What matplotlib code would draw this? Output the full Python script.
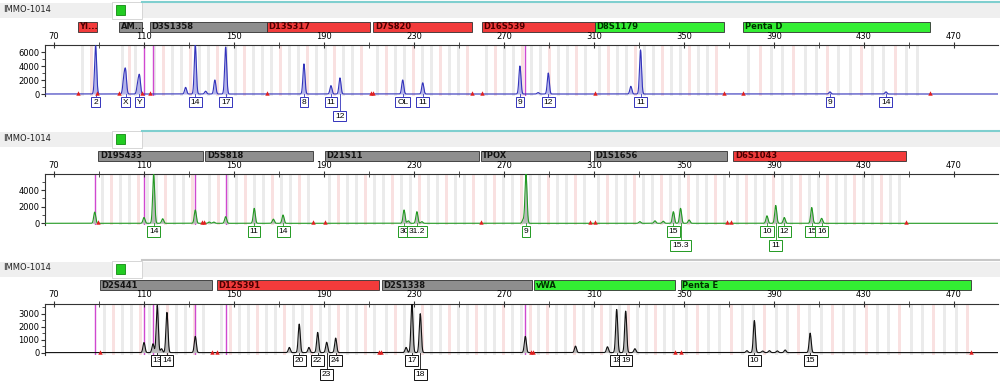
import numpy as np
import matplotlib.pyplot as plt
import matplotlib.transforms as mtransforms
from matplotlib.patches import Rectangle
from matplotlib.lines import Line2D

W, H = 1000, 382

sample = 'IMMO-1014'
size_ticks = [70, 110, 150, 190, 230, 270, 310, 350, 390, 430, 470]
size_minor = [90, 130, 170, 210, 250, 290, 330, 370, 410, 450]

# ---- panel 1 (blue) ----
loci1 = ['YI...', 'AM...', 'D3S1358', 'D13S317', 'D7S820', 'D16S539', 'D8S1179', 'Penta D']
loci1_start = [80.5, 98.9, 112.5, 164.5, 211.8, 260.1, 310.4, 376.4]
loci1_end = [89.3, 109.2, 164.5, 210.6, 255.8, 310.4, 367.9, 459.3]
loci1_col = ['red', 'gray', 'gray', 'red', 'red', 'red', 'green', 'green']
loci1_rep = [4, 3, 4, 4, 4, 4, 4, 5]
peaks1_bp = [88.5, 101.0, 101.8, 107.2, 108.0, 128.5, 132.8, 137.4, 141.5, 146.3,
             181.1, 193.1, 197.1, 225.0, 233.9, 277.1, 285.2, 289.7, 326.4, 330.7,
             414.9, 439.8]
peaks1_h = [6900, 2000, 3200, 1300, 2500, 950, 7000, 400, 2000, 6700,
            4300, 1200, 2300, 2000, 1600, 4000, 200, 3000, 1100, 6300,
            300, 300]
calls1 = [(88.5, '2', 0), (101.8, 'X', 0), (108.0, 'Y', 0), (132.8, '14', 0),
          (146.3, '17', 0), (181.1, '8', 0), (193.1, '11', 0), (197.1, '12', 1),
          (225.0, 'OL', 0), (233.9, '11', 0), (277.1, '9', 0), (289.7, '12', 0),
          (330.7, '11', 0), (414.9, '9', 0), (439.8, '14', 0)]
magenta1 = [110, 114, 279.5]
flags1 = [80.5, 89.3, 98.9, 109.2, 112.5, 164.5, 211.0, 211.6, 255.6, 260.1,
          310.4, 367.9, 376.4, 459.3]

# ---- panel 2 (green) ----
loci2 = ['D19S433', 'D5S818', 'D21S11', 'TPOX', 'D1S1656', 'D6S1043']
loci2_start = [89.7, 137.1, 190.4, 259.6, 310.0, 371.9]
loci2_end = [136.1, 185.3, 259.0, 308.2, 369.3, 448.7]
loci2_col = ['gray', 'gray', 'gray', 'gray', 'gray', 'red']
loci2_rep = [4, 4, 4, 4, 4, 4]
peaks2_bp = [88.1, 110.0, 114.3, 118.3, 132.8, 139.0, 141.0, 146.3, 159.0, 167.5,
             171.8, 225.6, 227.5, 231.3, 233.5, 278.5, 279.8, 330.4, 337.1, 340.8,
             345.3, 348.5, 352.3, 386.9, 390.8, 394.6, 406.8, 411.2]
peaks2_h = [1350, 700, 5900, 550, 1600, 150, 150, 800, 1800, 500,
            1000, 1600, 300, 1400, 200, 400, 5900, 200, 300, 250,
            1400, 1800, 400, 900, 2150, 700, 1900, 600]
calls2 = [(114.3, '14', 0), (159.0, '11', 0), (171.8, '14', 0), (225.6, '30', 0),
          (231.3, '31.2', 0), (279.8, '9', 0), (345.3, '15', 0), (348.5, '15.3', 1),
          (386.9, '10', 0), (390.8, '11', 1), (394.6, '12', 0), (406.8, '15', 0),
          (411.2, '16', 0)]
magenta2 = [88.1, 110, 132.8, 146.3]
flags2 = [89.4, 136.0, 136.8, 185.3, 190.4, 259.6, 308.2, 310.4, 369.3, 371.1, 448.7]

# ---- panel 3 (black) ----
loci3 = ['D2S441', 'D12S391', 'D2S1338', 'vWA', 'Penta E']
loci3_start = [90.4, 142.3, 215.6, 283.3, 348.5]
loci3_end = [140.4, 214.6, 282.6, 346.0, 477.4]
loci3_col = ['gray', 'red', 'gray', 'green', 'green']
loci3_rep = [4, 4, 4, 4, 5]
peaks3_bp = [110.0, 114.0, 115.9, 117.8, 120.2, 132.8, 174.6, 179.0, 183.3, 187.2,
             191.2, 195.2, 226.5, 229.1, 232.8, 279.5, 301.8, 316.0, 320.1, 324.1,
             328.2, 378.0, 381.3, 385.0, 388.0, 391.5, 395.0, 406.1]
peaks3_h = [780, 680, 3650, 300, 3100, 1250, 400, 2200, 400, 1560,
            800, 1120, 400, 3800, 3000, 1250, 500, 450, 3330, 3200,
            300, 150, 2470, 120, 150, 130, 200, 1500]
calls3 = [(115.9, '13', 0), (120.2, '14', 0), (179.0, '20', 0), (187.2, '22', 0),
          (191.2, '23', 1), (195.2, '24', 0), (229.1, '17', 0), (232.8, '18', 1),
          (320.1, '18', 0), (324.1, '19', 0), (381.3, '10', 0), (406.1, '15', 0)]
magenta3 = [88.1, 110, 114, 132.8, 146.3, 279.5]
flags3 = [90.4, 140.1, 142.3, 214.4, 215.2, 282.0, 282.8, 346.0, 348.5, 477.4]

panels = [
    dict(off=0, loci=loci1, start=loci1_start, end=loci1_end, col=loci1_col, rep=loci1_rep,
         pbp=peaks1_bp, ph=peaks1_h, calls=calls1, mag=magenta1, flags=flags1,
         ymax=7000, yt=[0, 2000, 4000, 6000], ym=[1000, 3000, 5000],
         line='#3333bb', fill='#b4b4ea', topline='#7fcfcf'),
    dict(off=129.3, loci=loci2, start=loci2_start, end=loci2_end, col=loci2_col, rep=loci2_rep,
         pbp=peaks2_bp, ph=peaks2_h, calls=calls2, mag=magenta2, flags=flags2,
         ymax=5900, yt=[0, 2000, 4000], ym=[1000, 3000, 5000],
         line='#229922', fill='#b8b8b8', topline='#7fcfcf'),
    dict(off=258.6, loci=loci3, start=loci3_start, end=loci3_end, col=loci3_col, rep=loci3_rep,
         pbp=peaks3_bp, ph=peaks3_h, calls=calls3, mag=magenta3, flags=flags3,
         ymax=3780, yt=[0, 1000, 2000, 3000], ym=[500, 1500, 2500, 3500],
         line='#111111', fill='#b8b8b8', topline='#c8c8c8'),
]

bar_face = {'red': '#f23b3b', 'gray': '#8e8e8e', 'green': '#33ee33'}
bar_text = {'red': '#4a0000', 'gray': '#151515', 'green': '#003000'}


def fy(py):
    return 1 - py / H


fig = plt.figure(figsize=(10, 3.82), dpi=100)
xs = np.arange(66, 490, 0.05)

for pn in panels:
    off = pn['off']

    # header strip with sample name and status button
    fig.add_artist(Rectangle((0, fy(18 + off)), 1, 15 / H, transform=fig.transFigure,
                             facecolor='#efefef', edgecolor='none'))
    fig.add_artist(Line2D([142 / W, 1], [fy(1.5 + off)] * 2, color=pn['topline'], lw=1.5))
    fig.add_artist(Rectangle((112 / W, fy(19 + off)), 30 / W, 17 / H, transform=fig.transFigure,
                             facecolor='white', edgecolor='#d0d0d0', lw=0.6))
    fig.add_artist(Rectangle((116 / W, fy(15 + off)), 9 / W, 10 / H, transform=fig.transFigure,
                             facecolor='#22cc22', edgecolor='#118811', lw=0.6))
    fig.text(3 / W, fy(9 + off), sample, fontsize=6, va='center', ha='left', color='#222222')

    ymax = pn['ymax']
    ax = fig.add_axes([45 / W, fy(96 + off), 953 / W, 51 / H])
    ax.set_xlim(66, 489.6)
    ax.set_ylim(-2 * ymax / 49, ymax)
    bt = mtransforms.blended_transform_factory(ax.transData, fig.transFigure)

    # bins and locus bars
    for name, s, e, c, r in zip(pn['loci'], pn['start'], pn['end'], pn['col'], pn['rep']):
        pos = np.arange(s + r / 2, e - 0.5, r)
        for k, b in enumerate(pos):
            sc = '#f9e1e1' if k % 3 == 1 else '#ebebeb'
            ax.axvspan(b - 0.65, b + 0.65, color=sc, lw=0, zorder=0)
        ax.add_patch(Rectangle((s, fy(31.5 + off)), e - s, 10 / H, transform=bt, clip_on=False,
                               facecolor=bar_face[c], edgecolor='#303030', lw=0.6))
        ax.text(s + 0.8, fy(26.5 + off), name, transform=bt, fontsize=6, fontweight='bold',
                va='center', ha='left', color=bar_text[c], clip_on=False)

    for m in pn['mag']:
        ax.axvline(m, color='#d048d0', lw=1, zorder=1)

    # trace built from peak positions/heights
    y = np.zeros_like(xs)
    for b, h in zip(pn['pbp'], pn['ph']):
        y += h * np.exp(-0.5 * ((xs - b) / 0.45) ** 2)
    ax.fill_between(xs, 0, y, color=pn['fill'], lw=0, zorder=2)
    ax.plot(xs, y, color=pn['line'], lw=0.8, zorder=3)

    ax.plot(pn['flags'], [ymax * 0.02] * len(pn['flags']), '^', color='#e02020',
            ms=3.2, mew=0, zorder=4)

    # allele calls
    for b, txt, row in pn['calls']:
        ypx = (102 if row == 0 else 116) + off
        ax.plot([b, b], [fy(94 + off), fy(ypx - 4)], transform=bt, color=pn['line'],
                lw=0.6, clip_on=False)
        ax.text(b, fy(ypx), txt, transform=bt, fontsize=6, family='Liberation Sans',
                ha='center', va='center', clip_on=False,
                bbox=dict(boxstyle='square,pad=0.22', fc='white', ec=pn['line'], lw=0.7))

    ax.xaxis.tick_top()
    ax.set_xticks(size_ticks)
    ax.set_xticks(size_minor, minor=True)
    ax.tick_params(axis='x', which='both', direction='inout', length=4, labelsize=6,
                   pad=1, color='#333333')
    ax.set_yticks(pn['yt'])
    ax.set_yticks(pn['ym'], minor=True)
    ax.tick_params(axis='y', which='major', length=3, labelsize=6, pad=1, color='#333333')
    ax.tick_params(axis='y', which='minor', length=2, color='#333333')
    for sp in ['right', 'bottom']:
        ax.spines[sp].set_visible(False)
    for sp in ['top', 'left']:
        ax.spines[sp].set_color('#333333')
        ax.spines[sp].set_linewidth(0.8)
    ax.set_facecolor('white')

fig.savefig('out.png', dpi=100)
